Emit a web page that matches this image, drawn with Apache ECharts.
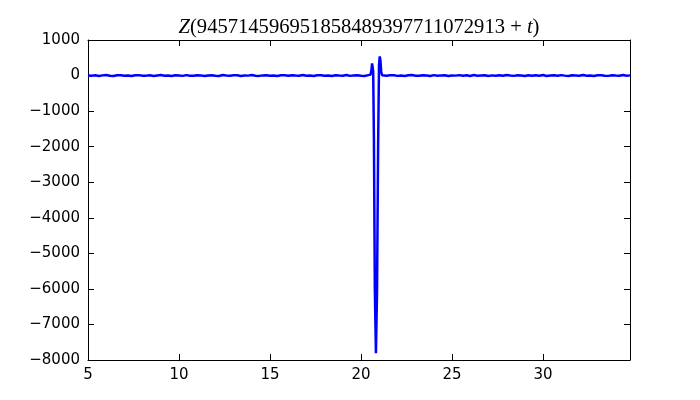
<!DOCTYPE html>
<html><head><meta charset="utf-8">
<script src="https://cdn.jsdelivr.net/npm/echarts@6/dist/echarts.min.js"></script>
<style>html,body{margin:0;padding:0;background:#fff}#c{width:700px;height:400px}</style>
</head><body><div id="c"></div>
<script>
// x-axis range and ticks
const xMin = 5, xMax = 34.78, xStep = 5;
const yMin = -8000, yMax = 1000, yStep = 1000;
// baseline sampled every 0.2 from 5.0 to 20.4
const leftStart = 5.0, leftStep = 0.2;
const leftVals = [2,-6,9,-12,5,15,-4,-10,7,11,-8,3,-15,6,12,-5,-2,9,-11,4,
  14,-7,2,-13,8,4,-9,12,-3,-6,10,5,-14,3,7,-4,-10,13,1,-8,
  6,9,-12,4,-2,13,-6,-9,5,10,-3,2,-13,8,6,-5,11,-1,-8,14,
  -4,3,-11,7,9,-7,4,-12,10,1,-5,13,-9,5,8,-3,-10,12];
// spike region
const spikeX = [20.52,20.57,20.61,20.64,20.67,20.71,20.76,20.82,20.88,20.94,20.99,21.03,21.07,21.11,21.16,21.22];
const spikeY = [20,140,340,360,120,-1800,-6000,-7810,-6100,-2000,300,540,420,100,10,-4];
// baseline sampled every 0.2 from 21.4 to 34.8
const rightVals = [-5,7,11,-9,3,-12,6,14,-3,-7,9,1,-11,12,-4,5,8,-14,4,-2,
  12,-8,6,-10,13,-5,2,9,-12,5,-3,10,-7,14,-1,-9,7,3,-13,11,
  -6,8,-4,15,-10,2,6,-8,12,-2,-11,9,4,-6,14,-5,3,-13,7,10,
  -3,-9,11,1,-7,13,-4,5];
const rightStart = 21.4, rightStep = 0.2;

const data = [];
leftVals.forEach((v,i)=>data.push([+(leftStart+i*leftStep).toFixed(2), v]));
spikeX.forEach((x,i)=>data.push([x, spikeY[i]]));
rightVals.forEach((v,i)=>data.push([+(rightStart+i*rightStep).toFixed(2), v]));

const chart = echarts.init(document.getElementById('c'), null, {renderer:'canvas'});
const axLine = {show:true, onZero:false, lineStyle:{color:'#000', width:1}};
const font = 'DejaVu Sans';
chart.setOption({
  animation:false,
  backgroundColor:'#fff',
  title:{
    text:'{i|Z}{n|(945714596951858489397711072913 + }{i|t}{n|)}',
    left:354, top:12, textAlign:'center',
    textStyle:{fontWeight:'normal', rich:{
      i:{fontFamily:'Liberation Serif', fontStyle:'italic', fontWeight:'normal', fontSize:20.6, color:'#000'},
      n:{fontFamily:'Liberation Serif', fontWeight:'normal', fontSize:20.6, color:'#000'}
    }}
  },
  grid:{left:88, right:70, top:40, bottom:40, containLabel:false},
  xAxis:[{
    type:'value', min:xMin, max:xMax, interval:xStep, position:'bottom',
    axisLine:axLine, splitLine:{show:false},
    axisTick:{show:true, inside:true, length:6, lineStyle:{color:'#000'}},
    axisLabel:{showMaxLabel:false, color:'#000', fontFamily:font, fontSize:15, margin:8}
  },{
    type:'value', min:xMin, max:xMax, interval:xStep, position:'top',
    axisLine:axLine, splitLine:{show:false},
    axisTick:{show:true, inside:true, length:6, lineStyle:{color:'#000'}},
    axisLabel:{show:false}
  }],
  yAxis:[{
    type:'value', min:yMin, max:yMax, interval:yStep, position:'left',
    axisLine:axLine, splitLine:{show:false},
    axisTick:{show:true, inside:true, length:6, lineStyle:{color:'#000'}},
    axisLabel:{color:'#000', fontFamily:font, fontSize:15, margin:8,
      formatter:v=>String(v).replace('-','\u2212')}
  },{
    type:'value', min:yMin, max:yMax, interval:yStep, position:'right',
    axisLine:axLine, splitLine:{show:false},
    axisTick:{show:true, inside:true, length:6, lineStyle:{color:'#000'}},
    axisLabel:{show:false}
  }],
  series:[{
    type:'line', data:data, xAxisIndex:0, yAxisIndex:0,
    showSymbol:false, smooth:false, clip:true,
    lineStyle:{color:'#0000ff', width:2.5}
  }]
});
</script></body></html>
